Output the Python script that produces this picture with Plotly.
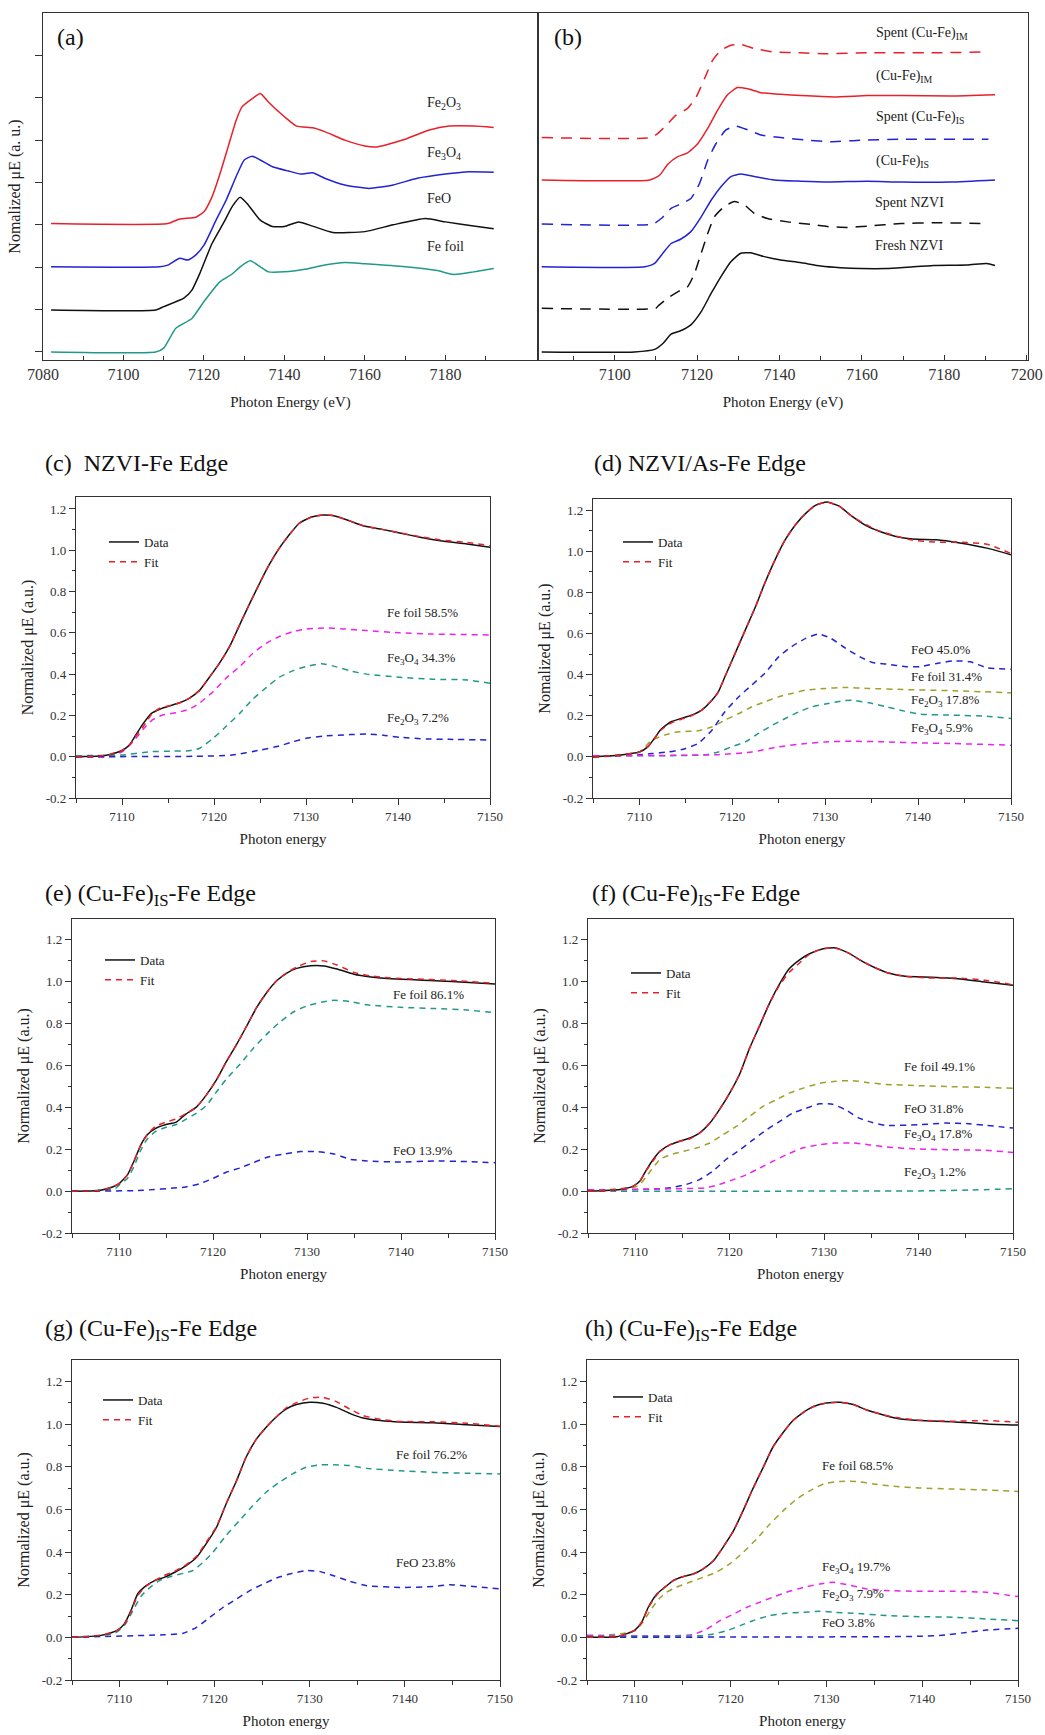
import plotly.graph_objects as go

W, H = 1045, 1735
SERIF = "Liberation Serif, Times New Roman, serif"

RED = "#e8202a"
BLUE = "#2323d2"
BLACK = "#111111"
TEAL = "#21998a"
MAGENTA = "#ee22ee"
OLIVE = "#a0a02a"

# ---------------- (a) reference spectra (offset stack) ----------------
A_FEFOIL_E = [7082, 7108, 7110, 7113, 7117, 7120, 7124, 7127, 7129, 7131.5, 7134, 7136, 7140, 7145, 7150, 7155, 7160, 7170, 7178, 7182, 7187, 7192]
A_FEFOIL_Y = [0.0, 0.0, 0.09, 0.56, 0.79, 1.19, 1.66, 1.84, 2.01, 2.15, 2.01, 1.89, 1.89, 1.95, 2.05, 2.11, 2.08, 2.01, 1.92, 1.83, 1.89, 1.97]
A_FEO_E = [7082, 7108, 7110, 7115, 7117, 7119, 7122, 7125, 7127, 7129, 7131, 7134, 7137, 7140, 7143.5, 7147, 7152, 7160, 7167, 7175, 7180, 7187, 7192]
A_FEO_Y = [0.99, 0.99, 1.07, 1.27, 1.46, 1.86, 2.56, 3.07, 3.43, 3.65, 3.47, 3.11, 2.96, 2.96, 3.07, 2.97, 2.82, 2.84, 3.00, 3.15, 3.07, 2.97, 2.91]
A_FE3O4_E = [7082, 7109, 7111, 7114, 7116, 7118, 7120, 7123, 7125.5, 7128, 7130, 7132, 7134, 7137, 7141, 7144, 7147, 7150, 7155, 7161, 7167, 7173, 7180, 7185, 7192]
A_FE3O4_Y = [2.01, 2.01, 2.05, 2.21, 2.17, 2.29, 2.52, 3.11, 3.58, 4.14, 4.53, 4.62, 4.53, 4.37, 4.27, 4.20, 4.23, 4.10, 3.94, 3.86, 3.94, 4.10, 4.20, 4.25, 4.24]
A_FE2O3_E = [7082, 7111, 7114, 7118, 7120, 7122, 7124, 7126, 7128, 7129.5, 7132, 7134, 7136, 7140, 7143, 7147, 7150, 7155, 7160, 7163, 7170, 7176, 7181, 7187, 7192]
A_FE2O3_Y = [3.03, 3.03, 3.14, 3.18, 3.31, 3.66, 4.21, 4.84, 5.47, 5.79, 5.98, 6.10, 5.90, 5.55, 5.33, 5.29, 5.20, 5.00, 4.86, 4.84, 5.02, 5.24, 5.33, 5.33, 5.30]

# ---------------- (b) samples (offset stack) ----------------
B_FRESH_E = [7082.3, 7104.8, 7109.7, 7111.7, 7113.7, 7116, 7118.5, 7121, 7123.4, 7125.8, 7128.2, 7130.6, 7133, 7136.3, 7140.3, 7145, 7150, 7154.8, 7159.7, 7166, 7171, 7177.4, 7185.5, 7190.3, 7192.3]
B_FRESH_Y = [0.0, 0.0, 0.06, 0.20, 0.42, 0.50, 0.64, 0.95, 1.38, 1.78, 2.13, 2.33, 2.34, 2.25, 2.17, 2.11, 2.03, 1.99, 1.97, 1.97, 2.00, 2.04, 2.05, 2.09, 2.04]
B_SPENT_E = [7082.3, 7110, 7110.5, 7112.9, 7115.3, 7117.7, 7119.4, 7121, 7122.6, 7124.2, 7126.6, 7129, 7131.5, 7133.9, 7137.1, 7142, 7147.6, 7151.6, 7156.5, 7161.3, 7169.4, 7177.4, 7190.7]
B_SPENT_Y = [1.03, 1.03, 1.08, 1.27, 1.42, 1.54, 1.86, 2.33, 2.80, 3.19, 3.43, 3.55, 3.47, 3.27, 3.15, 3.07, 3.01, 2.96, 2.94, 2.97, 3.03, 3.05, 3.03]
B_IS_E = [7082.3, 7107.3, 7109.7, 7111.7, 7113.7, 7116, 7118.5, 7121, 7123.4, 7125.8, 7128.2, 7130.6, 7133.9, 7138.7, 7145.2, 7151.6, 7161.3, 7169.4, 7181.5, 7192.3]
B_IS_Y = [2.01, 2.01, 2.09, 2.33, 2.56, 2.66, 2.84, 3.19, 3.58, 3.90, 4.14, 4.20, 4.14, 4.06, 4.03, 4.01, 4.03, 4.01, 4.01, 4.06]
B_SPENT_IS_E = [7082.3, 7109.3, 7111.3, 7113.7, 7116, 7118.5, 7120.6, 7122.6, 7124.6, 7127, 7129.4, 7132.3, 7135.5, 7140.3, 7146.8, 7152.4, 7159.7, 7169.4, 7190.7]
B_SPENT_IS_Y = [3.02, 3.02, 3.15, 3.39, 3.49, 3.62, 3.98, 4.53, 4.92, 5.24, 5.33, 5.24, 5.12, 5.06, 5.00, 4.96, 5.00, 5.02, 5.02]
B_IM_E = [7082.3, 7108.5, 7110.9, 7112.9, 7115.3, 7117.7, 7120.2, 7122.6, 7125, 7127.4, 7129.8, 7132.3, 7135.5, 7140.3, 7145.2, 7153.2, 7161.3, 7169.4, 7181.5, 7192.3]
B_IM_Y = [4.06, 4.06, 4.17, 4.43, 4.61, 4.70, 4.92, 5.28, 5.71, 6.07, 6.24, 6.21, 6.12, 6.08, 6.05, 6.02, 6.05, 6.05, 6.04, 6.07]
B_SPENT_IM_E = [7082.3, 7108.9, 7110.5, 7112.5, 7114.9, 7117.7, 7119.8, 7121.8, 7123.8, 7125.8, 7128.2, 7130.6, 7133.9, 7138.7, 7145.2, 7151.6, 7161.3, 7177.4, 7190.7]
B_SPENT_IM_Y = [5.06, 5.06, 5.16, 5.35, 5.59, 5.75, 6.02, 6.45, 6.89, 7.12, 7.24, 7.26, 7.16, 7.08, 7.06, 7.04, 7.06, 7.06, 7.08]

# ---------------- (c) NZVI ----------------
C_DATA_E = [7105, 7107.5, 7108.6, 7110, 7110.8, 7111.5, 7112.3, 7113.2, 7114.1, 7115.2, 7116.2, 7117.3, 7118.4, 7119.5, 7120.6, 7121.7, 7122.8, 7123.9, 7125, 7126, 7127.1, 7128.2, 7129.3, 7130.6, 7131.9, 7132.9, 7134.4, 7136.2, 7138.4, 7140.2, 7142.4, 7144.6, 7147.5, 7150]
C_DATA_Y = [0, 0.003, 0.01, 0.03, 0.057, 0.105, 0.16, 0.21, 0.23, 0.247, 0.26, 0.283, 0.32, 0.385, 0.453, 0.534, 0.64, 0.744, 0.844, 0.93, 1.01, 1.076, 1.132, 1.161, 1.171, 1.168, 1.148, 1.119, 1.10, 1.084, 1.063, 1.046, 1.03, 1.014]
C_FIT_Y = [0, 0.003, 0.01, 0.03, 0.055, 0.1, 0.145, 0.205, 0.235, 0.247, 0.26, 0.283, 0.32, 0.385, 0.453, 0.534, 0.64, 0.744, 0.844, 0.93, 1.01, 1.076, 1.132, 1.161, 1.171, 1.168, 1.148, 1.119, 1.10, 1.084, 1.066, 1.05, 1.038, 1.022]
C_FOIL_E = [7105, 7108.6, 7110, 7111.2, 7112.3, 7113.3, 7114.4, 7115.9, 7117.3, 7118.4, 7119.9, 7121.3, 7122.8, 7124.2, 7125.7, 7127.1, 7128.6, 7130, 7131.9, 7134, 7136.6, 7140.2, 7143.8, 7150]
C_FOIL_Y = [0, 0, 0.024, 0.073, 0.133, 0.178, 0.202, 0.213, 0.23, 0.259, 0.315, 0.38, 0.437, 0.50, 0.55, 0.582, 0.606, 0.618, 0.624, 0.619, 0.611, 0.60, 0.594, 0.59]
C_FE3O4_E = [7105, 7110, 7113, 7115.5, 7117.3, 7118.4, 7119.9, 7121.3, 7122.8, 7124.2, 7125.7, 7127.1, 7128.6, 7130, 7131.7, 7132.9, 7134.8, 7136.6, 7140.2, 7143.8, 7147.5, 7150]
C_FE3O4_Y = [0.005, 0.008, 0.024, 0.027, 0.029, 0.04, 0.089, 0.146, 0.21, 0.278, 0.336, 0.385, 0.417, 0.437, 0.45, 0.44, 0.416, 0.40, 0.385, 0.375, 0.372, 0.356]
C_FE2O3_E = [7105, 7118, 7122, 7125, 7127.1, 7128.6, 7130, 7131.9, 7134.8, 7136.6, 7138.4, 7140.2, 7143.1, 7145.6, 7150]
C_FE2O3_Y = [0, 0.002, 0.008, 0.032, 0.052, 0.073, 0.089, 0.10, 0.107, 0.11, 0.104, 0.094, 0.086, 0.084, 0.081]

# ---------------- (d) NZVI/As ----------------
D_DATA_E = [7105, 7107.7, 7109.1, 7110, 7110.9, 7111.6, 7112.3, 7113.4, 7114.5, 7115.6, 7116.7, 7117.8, 7118.5, 7119.2, 7120.3, 7121.4, 7122.5, 7123.5, 7124.6, 7125.7, 7126.8, 7127.9, 7129, 7130.2, 7131.5, 7132.9, 7134.4, 7135.8, 7137.6, 7139.4, 7142, 7144.5, 7147.4, 7150]
D_DATA_Y = [0, 0.008, 0.016, 0.024, 0.049, 0.089, 0.133, 0.171, 0.187, 0.203, 0.228, 0.276, 0.317, 0.39, 0.504, 0.618, 0.732, 0.846, 0.959, 1.057, 1.13, 1.185, 1.225, 1.24, 1.22, 1.17, 1.125, 1.098, 1.073, 1.06, 1.057, 1.041, 1.016, 0.984]
D_FIT_Y = [0, 0.008, 0.016, 0.024, 0.049, 0.089, 0.13, 0.165, 0.183, 0.2, 0.228, 0.276, 0.317, 0.39, 0.504, 0.618, 0.732, 0.846, 0.959, 1.057, 1.13, 1.185, 1.225, 1.24, 1.22, 1.17, 1.13, 1.1, 1.075, 1.055, 1.045, 1.045, 1.035, 0.99]
D_FEO_E = [7105, 7110, 7111.3, 7113.1, 7114.9, 7116.3, 7117.8, 7119.2, 7120.7, 7122.1, 7123.5, 7125, 7126.4, 7127.9, 7129.3, 7130.6, 7132.2, 7133.7, 7135.1, 7136.6, 7138.7, 7140.2, 7142, 7143.8, 7145.6, 7147.4, 7150]
D_FEO_Y = [0, 0.01, 0.016, 0.024, 0.04, 0.065, 0.13, 0.22, 0.293, 0.35, 0.407, 0.488, 0.537, 0.577, 0.598, 0.577, 0.528, 0.488, 0.459, 0.452, 0.439, 0.439, 0.455, 0.467, 0.463, 0.434, 0.426]
D_FOIL_E = [7105, 7110, 7111.3, 7112.7, 7114.2, 7116.3, 7117.8, 7119.2, 7120.7, 7122.1, 7123.5, 7125, 7126.4, 7127.9, 7130, 7131.9, 7134.7, 7138.4, 7143.8, 7150]
D_FOIL_Y = [0, 0.024, 0.081, 0.106, 0.122, 0.127, 0.146, 0.179, 0.211, 0.244, 0.268, 0.293, 0.309, 0.325, 0.333, 0.338, 0.333, 0.328, 0.322, 0.312]
D_FE2O3_E = [7105, 7117, 7118.5, 7119.9, 7121.4, 7122.8, 7124.3, 7125.7, 7127.2, 7128.6, 7130, 7131.9, 7132.9, 7134.7, 7136.6, 7138.4, 7140.2, 7143.8, 7147.4, 7150]
D_FE2O3_Y = [0.005, 0.01, 0.024, 0.049, 0.073, 0.114, 0.154, 0.187, 0.22, 0.244, 0.257, 0.273, 0.276, 0.263, 0.244, 0.224, 0.208, 0.203, 0.198, 0.187]
D_FE3O4_E = [7105, 7118.5, 7122.1, 7125, 7127.9, 7130, 7132.9, 7136.6, 7140.2, 7143.8, 7150]
D_FE3O4_Y = [0.005, 0.011, 0.024, 0.049, 0.065, 0.073, 0.076, 0.073, 0.068, 0.065, 0.057]

# ---------------- (e) ----------------
E_DATA_E = [7105, 7107.9, 7109.3, 7110, 7110.9, 7111.6, 7112.3, 7113, 7113.9, 7115, 7116.1, 7117.1, 7118.2, 7119.3, 7120.4, 7121.4, 7122.5, 7123.6, 7124.6, 7125.7, 7126.8, 7127.9, 7128.9, 7130.4, 7131.8, 7133.2, 7135, 7136.8, 7138.9, 7141.8, 7145.4, 7150]
E_DATA_Y = [0, 0.003, 0.02, 0.036, 0.078, 0.144, 0.219, 0.269, 0.30, 0.318, 0.33, 0.368, 0.40, 0.46, 0.534, 0.617, 0.70, 0.79, 0.874, 0.948, 1.006, 1.043, 1.064, 1.077, 1.076, 1.061, 1.036, 1.023, 1.014, 1.009, 1.001, 0.99]
E_FIT_Y = [0, 0.003, 0.02, 0.036, 0.078, 0.144, 0.219, 0.269, 0.31, 0.33, 0.345, 0.37, 0.40, 0.46, 0.534, 0.617, 0.70, 0.79, 0.874, 0.948, 1.006, 1.045, 1.07, 1.097, 1.10, 1.08, 1.045, 1.028, 1.018, 1.013, 1.006, 0.993]
E_FOIL_E = [7105, 7109.5, 7110, 7110.9, 7111.6, 7112.3, 7113, 7113.9, 7115, 7116.1, 7117.1, 7118.2, 7119.3, 7120.4, 7121.4, 7122.9, 7124.3, 7125.7, 7127.1, 7128.6, 7130, 7131.8, 7132.9, 7134.6, 7136.4, 7140, 7143.6, 7147.1, 7150]
E_FOIL_Y = [0, 0.01, 0.028, 0.061, 0.119, 0.194, 0.249, 0.285, 0.305, 0.318, 0.343, 0.371, 0.409, 0.476, 0.534, 0.608, 0.683, 0.749, 0.807, 0.857, 0.885, 0.905, 0.912, 0.905, 0.89, 0.878, 0.872, 0.865, 0.852]
E_FEO_E = [7105, 7112, 7117.1, 7118.6, 7120, 7121.4, 7122.9, 7124.3, 7125.7, 7127.5, 7129.3, 7131.1, 7132.9, 7134.6, 7136.4, 7140, 7143.6, 7147.1, 7150]
E_FEO_Y = [0, 0.003, 0.02, 0.036, 0.061, 0.09, 0.111, 0.136, 0.161, 0.177, 0.189, 0.189, 0.177, 0.152, 0.144, 0.139, 0.144, 0.141, 0.136]

# ---------------- (f) ----------------
F_DATA_E = [7105, 7108.4, 7109.8, 7110.5, 7111.2, 7111.9, 7112.6, 7113.7, 7114.7, 7115.8, 7116.8, 7117.9, 7118.9, 7120, 7121.1, 7122.1, 7123.2, 7124.2, 7125.3, 7126.3, 7127.4, 7128.4, 7129.8, 7131.2, 7132.6, 7134, 7135.4, 7136.8, 7138.6, 7141.4, 7144.2, 7147, 7150]
F_DATA_Y = [0, 0.008, 0.024, 0.048, 0.103, 0.151, 0.19, 0.222, 0.238, 0.254, 0.277, 0.325, 0.388, 0.468, 0.563, 0.682, 0.793, 0.896, 0.991, 1.062, 1.105, 1.133, 1.157, 1.162, 1.137, 1.099, 1.067, 1.042, 1.026, 1.022, 1.015, 0.999, 0.983]
F_FIT_Y = [0, 0.008, 0.024, 0.048, 0.1, 0.145, 0.188, 0.222, 0.238, 0.25, 0.277, 0.325, 0.388, 0.468, 0.563, 0.682, 0.793, 0.896, 0.985, 1.045, 1.09, 1.13, 1.157, 1.162, 1.137, 1.099, 1.067, 1.042, 1.026, 1.018, 1.018, 1.008, 0.986]
F_FOIL_E = [7105, 7110, 7110.5, 7111.6, 7112.6, 7113.7, 7115.1, 7116.5, 7117.9, 7119.3, 7120.7, 7122.1, 7123.5, 7124.9, 7126.3, 7127.7, 7129.5, 7131.2, 7133, 7134.7, 7136.5, 7140, 7143.5, 7147, 7150]
F_FOIL_Y = [0, 0.02, 0.032, 0.095, 0.151, 0.174, 0.19, 0.206, 0.23, 0.27, 0.309, 0.357, 0.404, 0.436, 0.468, 0.491, 0.515, 0.525, 0.528, 0.518, 0.51, 0.504, 0.499, 0.496, 0.491]
F_FEO_E = [7105, 7112, 7113.7, 7115.4, 7116.8, 7118.2, 7119.6, 7121.1, 7122.5, 7123.9, 7125.3, 7126.7, 7128.1, 7129.5, 7130.9, 7132.3, 7133.7, 7135.1, 7136.5, 7140, 7142.8, 7145.3, 7150]
F_FEO_Y = [0.005, 0.01, 0.016, 0.032, 0.055, 0.095, 0.151, 0.198, 0.246, 0.293, 0.333, 0.373, 0.396, 0.417, 0.415, 0.388, 0.349, 0.328, 0.314, 0.317, 0.325, 0.322, 0.301]
F_FE3O4_E = [7105, 7112, 7117.5, 7118.9, 7120.4, 7121.8, 7123.2, 7124.6, 7126, 7127.7, 7129.5, 7131.2, 7133, 7134.7, 7136.5, 7140, 7143.5, 7147, 7150]
F_FE3O4_Y = [0.005, 0.01, 0.016, 0.032, 0.055, 0.079, 0.111, 0.143, 0.174, 0.206, 0.222, 0.23, 0.23, 0.222, 0.211, 0.201, 0.198, 0.195, 0.185]
F_FE2O3_E = [7105, 7140, 7145.3, 7150]
F_FE2O3_Y = [0, 0.001, 0.005, 0.011]

# ---------------- (g) ----------------
G_DATA_E = [7105, 7107.9, 7109.2, 7109.8, 7110.5, 7111.2, 7111.9, 7112.8, 7113.7, 7114.7, 7115.8, 7117, 7118.1, 7119.1, 7120.2, 7121.2, 7122.3, 7123.3, 7124.4, 7125.4, 7126.5, 7127.5, 7128.6, 7130, 7131.4, 7132.8, 7134.2, 7135.6, 7137.4, 7139.5, 7143, 7146.5, 7150]
G_DATA_Y = [0, 0.008, 0.023, 0.034, 0.063, 0.125, 0.203, 0.242, 0.266, 0.281, 0.305, 0.336, 0.375, 0.438, 0.516, 0.625, 0.734, 0.844, 0.93, 0.984, 1.034, 1.07, 1.091, 1.102, 1.097, 1.078, 1.05, 1.028, 1.016, 1.009, 1.006, 0.997, 0.988]
G_FIT_Y = [0, 0.008, 0.023, 0.034, 0.06, 0.12, 0.195, 0.24, 0.266, 0.29, 0.31, 0.34, 0.38, 0.445, 0.52, 0.625, 0.734, 0.844, 0.93, 0.984, 1.034, 1.075, 1.10, 1.122, 1.125, 1.105, 1.07, 1.04, 1.022, 1.012, 1.01, 1.004, 0.99]
G_FOIL_E = [7105, 7109.5, 7110.5, 7111.4, 7112.3, 7113.2, 7114.2, 7115.3, 7116.7, 7117.7, 7118.8, 7119.8, 7121.2, 7122.6, 7124, 7125.4, 7126.8, 7128.2, 7129.6, 7131.1, 7132.5, 7134.2, 7136, 7139.5, 7143, 7146.5, 7150]
G_FOIL_Y = [0, 0.02, 0.055, 0.125, 0.195, 0.234, 0.266, 0.284, 0.30, 0.313, 0.352, 0.398, 0.477, 0.547, 0.617, 0.68, 0.727, 0.766, 0.797, 0.809, 0.809, 0.805, 0.792, 0.781, 0.773, 0.769, 0.766]
G_FEO_E = [7105, 7114.7, 7116.7, 7118.1, 7119.5, 7120.9, 7122.3, 7123.7, 7125.1, 7126.5, 7127.9, 7129.6, 7131.1, 7132.5, 7134.2, 7136, 7139.5, 7143, 7144.7, 7147.2, 7150]
G_FEO_Y = [0, 0.012, 0.019, 0.047, 0.094, 0.141, 0.18, 0.219, 0.25, 0.278, 0.297, 0.313, 0.308, 0.289, 0.263, 0.242, 0.234, 0.238, 0.247, 0.238, 0.227]

# ---------------- (h) ----------------
H_DATA_E = [7105, 7108.1, 7109.1, 7110, 7110.7, 7111.4, 7112.3, 7113.1, 7114, 7115, 7116.1, 7117.1, 7118.2, 7119.2, 7120.3, 7121.3, 7122.3, 7123.4, 7124.4, 7125.5, 7126.5, 7127.6, 7128.6, 7130, 7131.4, 7132.8, 7134.2, 7135.6, 7137.3, 7139.7, 7143.2, 7146.7, 7150]
H_DATA_Y = [0, 0.003, 0.016, 0.034, 0.07, 0.141, 0.203, 0.234, 0.266, 0.284, 0.297, 0.32, 0.359, 0.422, 0.50, 0.594, 0.695, 0.797, 0.891, 0.961, 1.016, 1.055, 1.081, 1.098, 1.102, 1.091, 1.066, 1.047, 1.027, 1.016, 1.011, 1.00, 0.995]
H_FIT_Y = [0, 0.003, 0.016, 0.034, 0.07, 0.138, 0.2, 0.234, 0.266, 0.284, 0.297, 0.32, 0.359, 0.422, 0.50, 0.594, 0.695, 0.797, 0.891, 0.961, 1.016, 1.055, 1.081, 1.098, 1.102, 1.091, 1.066, 1.047, 1.03, 1.018, 1.013, 1.016, 1.008]
H_FOIL_E = [7105, 7110, 7110.7, 7111.6, 7112.5, 7113.3, 7114.3, 7115.7, 7117.1, 7118.5, 7119.9, 7121.3, 7122.7, 7124.1, 7125.5, 7126.9, 7128.3, 7129.7, 7131.4, 7133.1, 7134.9, 7137, 7139.7, 7143.2, 7146.7, 7150]
H_FOIL_Y = [0, 0.03, 0.063, 0.125, 0.18, 0.211, 0.234, 0.258, 0.281, 0.305, 0.344, 0.398, 0.461, 0.531, 0.594, 0.648, 0.688, 0.719, 0.731, 0.731, 0.719, 0.708, 0.70, 0.695, 0.691, 0.684]
H_FE3O4_E = [7105, 7116, 7117.5, 7118.9, 7120.3, 7121.7, 7123, 7124.4, 7125.8, 7127.6, 7129.3, 7130.7, 7132.1, 7134.2, 7136.3, 7139.7, 7143.2, 7146.7, 7150]
H_FE3O4_Y = [0.01, 0.012, 0.039, 0.078, 0.109, 0.141, 0.164, 0.188, 0.211, 0.234, 0.25, 0.258, 0.247, 0.227, 0.219, 0.216, 0.216, 0.211, 0.191]
H_FE2O3_E = [7105, 7117, 7118.2, 7119.6, 7121, 7122.3, 7124.1, 7125.8, 7127.6, 7129.3, 7131, 7132.8, 7136.3, 7139.7, 7143.2, 7146.7, 7150]
H_FE2O3_Y = [0.005, 0.008, 0.016, 0.031, 0.055, 0.078, 0.102, 0.113, 0.117, 0.122, 0.117, 0.113, 0.102, 0.097, 0.094, 0.086, 0.078]
H_FEO_E = [7105, 7136.3, 7139.7, 7142.5, 7144.6, 7146.7, 7150]
H_FEO_Y = [0, 0.003, 0.005, 0.011, 0.023, 0.034, 0.042]

# Text labels
PANEL_TITLES = ["(c)  NZVI-Fe Edge", "(d) NZVI/As-Fe Edge",
                "(e) (Cu-Fe)<sub>IS</sub>-Fe Edge", "(f) (Cu-Fe)<sub>IS</sub>-Fe Edge",
                "(g) (Cu-Fe)<sub>IS</sub>-Fe Edge", "(h) (Cu-Fe)<sub>IS</sub>-Fe Edge"]

# ---------------- layout geometry (pixels) ----------------
def px_x(p):
    return p / W


def px_y(p):
    return 1 - p / H


PANELS = [
    # (x px left,right), (y px top,bottom), xrange, yrange
    ((43, 538), (13, 360), (7080, 7203), (-0.19, 8.0)),
    ((538, 1028), (13, 360), (7081.4, 7200.3), (-0.19, 8.0)),
    ((76, 490), (497, 798), (7105, 7150), (-0.2, 1.258)),
    ((593, 1011), (499, 798), (7105, 7150), (-0.2, 1.255)),
    ((72, 495), (919, 1233), (7105, 7150), (-0.2, 1.3)),
    ((588, 1013), (919, 1233), (7105, 7150), (-0.2, 1.3)),
    ((72, 500), (1360, 1680), (7105, 7150), (-0.2, 1.3)),
    ((587, 1018), (1360, 1680), (7105, 7150), (-0.2, 1.3)),
]

fig = go.Figure()


def ax_names(i):
    return ("x" if i == 1 else f"x{i}"), ("y" if i == 1 else f"y{i}")


def add_line(i, xs, ys, color, dash="solid", width=1.5, name=None, legend=None):
    xa, ya = ax_names(i)
    fig.add_trace(go.Scatter(
        x=xs, y=ys, mode="lines", xaxis=xa, yaxis=ya,
        line=dict(color=color, width=width, dash=dash, shape="spline", smoothing=0.5),
        name=name if name else "", showlegend=bool(legend), legend=legend if legend else "legend",
        hoverinfo="skip"))


DASH = "6px,5px"
BDASH = "11px,8px"

# (a)
add_line(1, A_FEFOIL_E, A_FEFOIL_Y, TEAL)
add_line(1, A_FEO_E, A_FEO_Y, BLACK)
add_line(1, A_FE3O4_E, A_FE3O4_Y, BLUE)
add_line(1, A_FE2O3_E, A_FE2O3_Y, RED)
# (b)
add_line(2, B_FRESH_E, B_FRESH_Y, BLACK)
add_line(2, B_SPENT_E, B_SPENT_Y, BLACK, BDASH)
add_line(2, B_IS_E, B_IS_Y, BLUE)
add_line(2, B_SPENT_IS_E, B_SPENT_IS_Y, BLUE, BDASH)
add_line(2, B_IM_E, B_IM_Y, RED)
add_line(2, B_SPENT_IM_E, B_SPENT_IM_Y, RED, BDASH)

# fitted panels
FIT_PANELS = [
    (3, C_DATA_E, C_DATA_Y, C_FIT_Y, [(C_FOIL_E, C_FOIL_Y, MAGENTA), (C_FE3O4_E, C_FE3O4_Y, TEAL), (C_FE2O3_E, C_FE2O3_Y, BLUE)]),
    (4, D_DATA_E, D_DATA_Y, D_FIT_Y, [(D_FEO_E, D_FEO_Y, BLUE), (D_FOIL_E, D_FOIL_Y, OLIVE), (D_FE2O3_E, D_FE2O3_Y, TEAL), (D_FE3O4_E, D_FE3O4_Y, MAGENTA)]),
    (5, E_DATA_E, E_DATA_Y, E_FIT_Y, [(E_FOIL_E, E_FOIL_Y, TEAL), (E_FEO_E, E_FEO_Y, BLUE)]),
    (6, F_DATA_E, F_DATA_Y, F_FIT_Y, [(F_FOIL_E, F_FOIL_Y, OLIVE), (F_FEO_E, F_FEO_Y, BLUE), (F_FE3O4_E, F_FE3O4_Y, MAGENTA), (F_FE2O3_E, F_FE2O3_Y, TEAL)]),
    (7, G_DATA_E, G_DATA_Y, G_FIT_Y, [(G_FOIL_E, G_FOIL_Y, TEAL), (G_FEO_E, G_FEO_Y, BLUE)]),
    (8, H_DATA_E, H_DATA_Y, H_FIT_Y, [(H_FOIL_E, H_FOIL_Y, OLIVE), (H_FE3O4_E, H_FE3O4_Y, MAGENTA), (H_FE2O3_E, H_FE2O3_Y, TEAL), (H_FEO_E, H_FEO_Y, BLUE)]),
]

for k, (i, de, dy, fy, comps) in enumerate(FIT_PANELS):
    leg = "legend" if k == 0 else f"legend{k + 1}"
    for ce, cy, col in comps:
        add_line(i, ce, cy, col, DASH)
    add_line(i, de, dy, BLACK, "solid", 1.5, "Data", leg)
    add_line(i, de, fy, RED, DASH, 1.5, "Fit", leg)

layout = dict(
    template="none",
    width=W, height=H, margin=dict(l=0, r=0, t=0, b=0, autoexpand=False),
    paper_bgcolor="white", plot_bgcolor="white",
    font=dict(family=SERIF, color="#222"),
    annotations=[],
)

AXCOL = "#333333"
for i, (xp, yp, xr, yr) in enumerate(PANELS, start=1):
    xa, ya = ax_names(i)
    xkey = "xaxis" if i == 1 else f"xaxis{i}"
    ykey = "yaxis" if i == 1 else f"yaxis{i}"
    common = dict(showline=True, linecolor=AXCOL, linewidth=1.2, mirror=True, automargin=False,
                  showgrid=False, zeroline=False, tickcolor=AXCOL, tickwidth=1)
    if i <= 2:
        if i == 1:
            xt = [7080, 7100, 7120, 7140, 7160, 7180]
            xm = [7090, 7110, 7130, 7150, 7170, 7190]
        else:
            xt = [7100, 7120, 7140, 7160, 7180, 7200]
            xm = [7090, 7110, 7130, 7150, 7170, 7190]
        layout[xkey] = dict(common, domain=[px_x(xp[0]), px_x(xp[1])], range=list(xr), anchor=ya,
                            tickmode="array", tickvals=xt, ticks="inside", ticklen=5,
                            minor=dict(tickmode="array", tickvals=xm, ticks="inside", ticklen=4, tickcolor=AXCOL),
                            tickfont=dict(family=SERIF, size=16, color="#333"),
                            title=dict(text="Photon Energy (eV)", font=dict(family=SERIF, size=15, color="#222"), standoff=14))
        ycfg = dict(common, domain=[px_y(yp[1]), px_y(yp[0])], range=list(yr), anchor=xa,
                    showticklabels=False)
        if i == 1:
            ycfg.update(tickmode="array", tickvals=[0, 1, 2, 3, 4, 5, 6, 7], ticks="outside", ticklen=7,
                        title=dict(text="Nomalized μE (a. u.)", font=dict(family=SERIF, size=16, color="#222"), standoff=10))
        else:
            ycfg.update(ticks="")
        layout[ykey] = ycfg
    else:
        layout[xkey] = dict(common, domain=[px_x(xp[0]), px_x(xp[1])], range=list(xr), anchor=ya,
                            tickmode="array", tickvals=[7110, 7120, 7130, 7140, 7150], ticks="outside", ticklen=6,
                            minor=dict(tickmode="array", tickvals=[7105, 7115, 7125, 7135, 7145], ticks="outside", ticklen=4, tickcolor=AXCOL),
                            tickfont=dict(family=SERIF, size=13, color="#333"),
                            title=dict(text="Photon energy", font=dict(family=SERIF, size=15, color="#222"), standoff=10))
        ytitle = "Nomalized μE (a.u.)" if i == 4 else "Normalized μE (a.u.)"
        yv = [-0.2, 0.0, 0.2, 0.4, 0.6, 0.8, 1.0, 1.2]
        layout[ykey] = dict(common, domain=[px_y(yp[1]), px_y(yp[0])], range=list(yr), anchor=xa,
                            tickmode="array", tickvals=yv, ticktext=[f"{v:.1f}" for v in yv],
                            ticks="outside", ticklen=6,
                            minor=dict(tickmode="array", tickvals=[-0.1, 0.1, 0.3, 0.5, 0.7, 0.9, 1.1], ticks="outside", ticklen=3, tickcolor=AXCOL),
                            tickfont=dict(family=SERIF, size=13, color="#333"),
                            title=dict(text=ytitle, font=dict(family=SERIF, size=16, color="#222"), standoff=8))

# legends for fitted panels (pixel positions of their top-left corners)
LEG_POS = [(104, 527), (618, 527), (100, 945), (626, 958), (98, 1385), (608, 1382)]
for k, (lx, ly) in enumerate(LEG_POS):
    name = "legend" if k == 0 else f"legend{k + 1}"
    layout[name] = dict(x=px_x(lx), y=px_y(ly), xanchor="left", yanchor="top",
                        bgcolor="rgba(0,0,0,0)", borderwidth=0, itemwidth=30,
                        font=dict(family=SERIF, size=13, color="#222"))

ann = layout["annotations"]
# panel letters (a)/(b)
ann.append(dict(text="(a)", xref="paper", yref="paper", x=px_x(55), y=px_y(37), xanchor="left", yanchor="middle",
                showarrow=False, font=dict(family=SERIF, size=24, color="#111")))
ann.append(dict(text="(b)", xref="paper", yref="paper", x=px_x(552), y=px_y(37), xanchor="left", yanchor="middle",
                showarrow=False, font=dict(family=SERIF, size=24, color="#111")))
TITLE_POS = [(43, 463), (592, 463), (43, 895), (590, 895), (43, 1330), (583, 1330)]
for t, (tx, ty) in zip(PANEL_TITLES, TITLE_POS):
    ann.append(dict(text=t, xref="paper", yref="paper", x=px_x(tx), y=px_y(ty), xanchor="left", yanchor="middle",
                    showarrow=False, font=dict(family=SERIF, size=24, color="#111")))

CURVE_LABELS = [
    (1, 7175, 5.86, "Fe<sub>2</sub>O<sub>3</sub>", 14), (1, 7175, 4.69, "Fe<sub>3</sub>O<sub>4</sub>", 14),
    (1, 7175, 3.62, "FeO", 14), (1, 7175, 2.48, "Fe foil", 14),
    (2, 7162.9, 7.52, "Spent (Cu-Fe)<sub>IM</sub>", 14), (2, 7162.9, 6.51, "(Cu-Fe)<sub>IM</sub>", 14),
    (2, 7162.9, 5.53, "Spent (Cu-Fe)<sub>IS</sub>", 14), (2, 7162.9, 4.49, "(Cu-Fe)<sub>IS</sub>", 14),
    (2, 7162.6, 3.53, "Spent NZVI", 14), (2, 7162.6, 2.51, "Fresh NZVI", 14),
    (3, 7138.6, 0.70, "Fe foil 58.5%", 13), (3, 7138.6, 0.477, "Fe<sub>3</sub>O<sub>4</sub> 34.3%", 13),
    (3, 7138.6, 0.186, "Fe<sub>2</sub>O<sub>3</sub> 7.2%", 13),
    (4, 7139, 0.524, "FeO 45.0%", 13), (4, 7139, 0.393, "Fe foil 31.4%", 13),
    (4, 7139, 0.276, "Fe<sub>2</sub>O<sub>3</sub> 17.8%", 13), (4, 7139, 0.138, "Fe<sub>3</sub>O<sub>4</sub> 5.9%", 13),
    (5, 7138.9, 0.94, "Fe foil 86.1%", 13), (5, 7138.9, 0.194, "FeO 13.9%", 13),
    (6, 7138.2, 0.594, "Fe foil 49.1%", 13), (6, 7138.2, 0.396, "FeO 31.8%", 13),
    (6, 7138.2, 0.27, "Fe<sub>3</sub>O<sub>4</sub> 17.8%", 13), (6, 7138.2, 0.087, "Fe<sub>2</sub>O<sub>3</sub> 1.2%", 13),
    (7, 7138.9, 0.859, "Fe foil 76.2%", 13), (7, 7138.9, 0.352, "FeO 23.8%", 13),
    (8, 7129.3, 0.805, "Fe foil 68.5%", 13), (8, 7129.3, 0.328, "Fe<sub>3</sub>O<sub>4</sub> 19.7%", 13),
    (8, 7129.3, 0.203, "Fe<sub>2</sub>O<sub>3</sub> 7.9%", 13), (8, 7129.3, 0.07, "FeO 3.8%", 13),
]
for i, x, y, t, fs in CURVE_LABELS:
    xa, ya = ax_names(i)
    ann.append(dict(text=t, xref=xa, yref=ya, x=x, y=y, xanchor="left", yanchor="middle",
                    showarrow=False, font=dict(family=SERIF, size=fs, color="#222")))

fig.update_layout(**layout)
fig.write_html("out.html")
